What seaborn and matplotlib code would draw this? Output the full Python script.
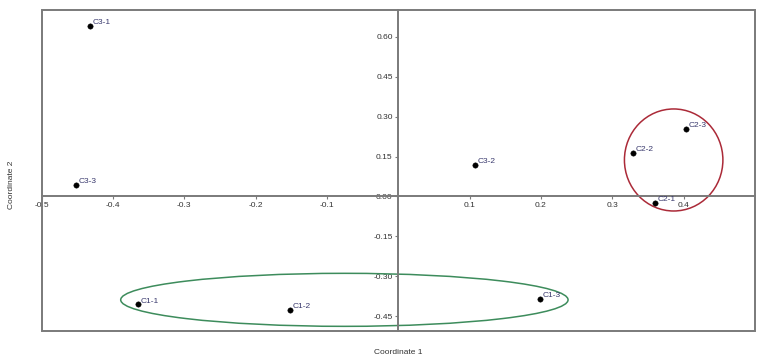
import numpy as np
import pandas as pd
import matplotlib
matplotlib.use("Agg")
import matplotlib.pyplot as plt
import seaborn as sns
from matplotlib.patches import Ellipse, Rectangle

# sample coordinates (PCoA)
labels = ["C1-1", "C1-2", "C1-3", "C2-1", "C2-2", "C2-3", "C3-1", "C3-2", "C3-3"]
coord1 = [-0.365, -0.152, 0.198, 0.360, 0.329, 0.403, -0.432, 0.108, -0.452]
coord2 = [-0.405, -0.426, -0.385, -0.024, 0.164, 0.255, 0.641, 0.119, 0.044]

# group ellipses: centre x, centre y, width, height
ell_cx = [-0.0755, 0.386]
ell_cy = [-0.388, 0.137]
ell_w = [0.627, 0.138]
ell_h = [0.199, 0.383]
ell_colors = ["#3d8c5c", "#ab2a38"]

xticks = [-0.5, -0.4, -0.3, -0.2, -0.1, 0.1, 0.2, 0.3, 0.4]
yticks = [-0.45, -0.30, -0.15, 0.00, 0.15, 0.30, 0.45, 0.60]

df = pd.DataFrame({"label": labels, "x": coord1, "y": coord2})

sns.set_style("white")
plt.rcParams["font.family"] = ["Liberation Sans", "DejaVu Sans"]

fig = plt.figure(figsize=(7.65, 3.64), dpi=100)
ax = fig.add_axes([41.5 / 765, 1 - 331 / 364, (755 - 41.5) / 765, (331 - 10) / 364])

axis_grey = "#7a7a7a"

for i in range(len(ell_cx)):
  e = Ellipse(
    (ell_cx[i], ell_cy[i]),
    width=ell_w[i],
    height=ell_h[i],
    facecolor="none",
    edgecolor=ell_colors[i],
    linewidth=1.1,
    zorder=2,
  )
  ax.add_patch(e)

sns.scatterplot(
  data=df, x="x", y="y",
  color="black", s=15, edgecolor="black", linewidth=0.3,
  zorder=4, ax=ax, legend=False,
)

for _, r in df.iterrows():
  ax.annotate(
    r["label"], (r["x"], r["y"]),
    xytext=(2.0, 2.3), textcoords="offset points",
    ha="left", va="center", fontsize=6, color="#3a3a6e", zorder=5,
  )

ax.set_xlim(-0.5, 0.5)
ax.set_ylim(-0.505, 0.7)

# axes crossing at the origin
for s in ["top", "right"]:
  ax.spines[s].set_visible(False)
ax.spines["left"].set_position(("data", 0))
ax.spines["bottom"].set_position(("data", 0))
for s in ["left", "bottom"]:
  ax.spines[s].set_color(axis_grey)
  ax.spines[s].set_linewidth(1.4)
  ax.spines[s].set_zorder(3)

# outer frame
ax.add_patch(Rectangle(
  (0, 0), 1, 1, transform=ax.transAxes, fill=False,
  edgecolor=axis_grey, linewidth=1.4, clip_on=False, zorder=3,
))

ax.set_xticks(xticks)
ax.set_xticklabels([f"{v:.1f}" for v in xticks])
ax.set_yticks(yticks)
ax.set_yticklabels([f"{v:.2f}" for v in yticks])
ax.tick_params(
  axis="both", direction="out", length=2.5, width=0.8, color=axis_grey,
  labelsize=6, labelcolor="#333333", pad=1.5,
  bottom=True, left=True,
)
ax.set_xlabel("")
ax.set_ylabel("")

fig.text(398 / 765, 1 - 352 / 364, "Coordinate 1", ha="center", va="center",
         fontsize=6, color="#333333")
fig.text(12 / 765, 1 - 185 / 364, "Coordinate 2", ha="center", va="center",
         rotation=90, fontsize=6, color="#333333")

fig.savefig("out.png", dpi=100)
